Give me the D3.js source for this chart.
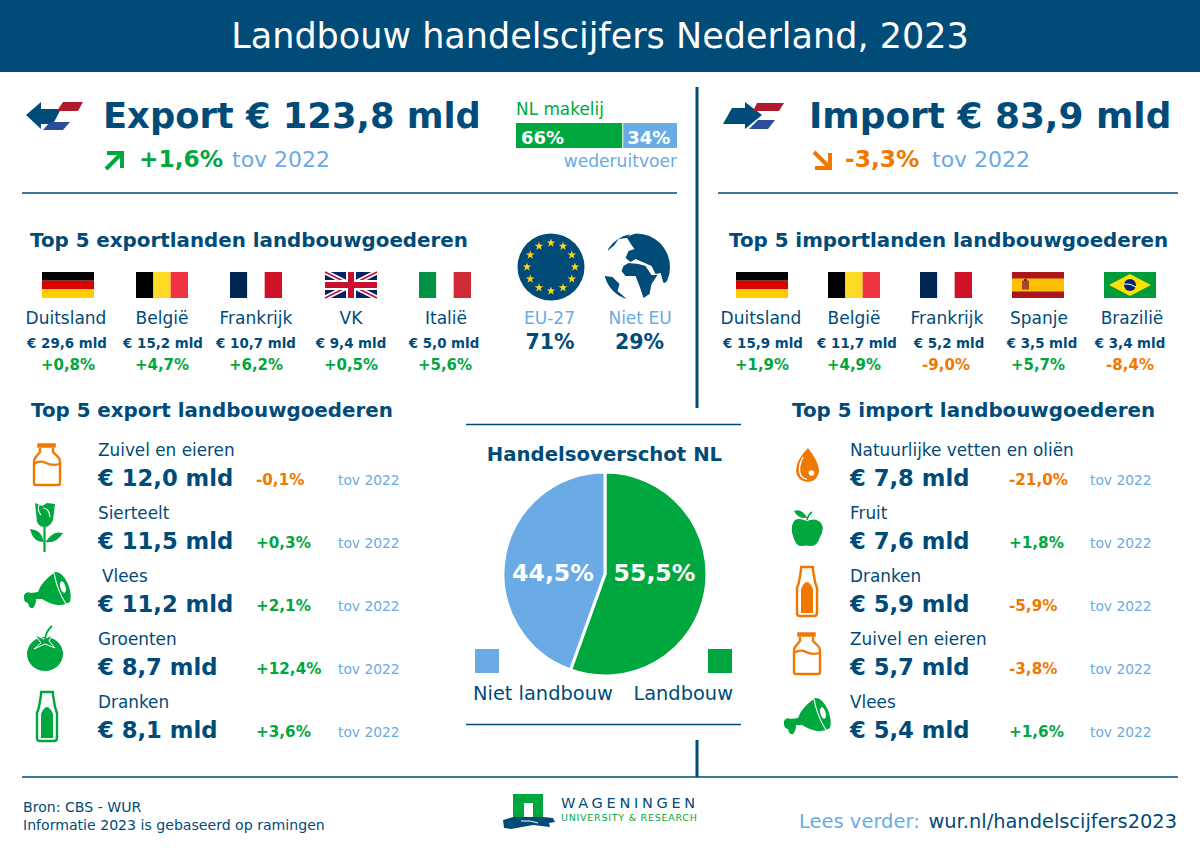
<!DOCTYPE html>
<html>
<head>
<meta charset="utf-8">
<script src="https://cdn.jsdelivr.net/npm/d3@7"></script>
<style>
html, body { margin: 0; padding: 0; background: #fff; }
svg { display: block; }
text { font-family: "DejaVu Sans", sans-serif; }
</style>
</head>
<body>
<div id="chart"></div>
<script>
const titel = "Landbouw handelscijfers Nederland, 2023";

const exportLanden = ["Duitsland", "België", "Frankrijk", "VK", "Italië"];
const exportLandenWaarde = [29.6, 15.2, 10.7, 9.4, 5.0];
const exportLandenGroei = [0.8, 4.7, 6.2, 0.5, 5.6];
const exportVlaggen = ["de", "be", "fr", "uk", "it"];

const importLanden = ["Duitsland", "België", "Frankrijk", "Spanje", "Brazilië"];
const importLandenWaarde = [15.9, 11.7, 5.2, 3.5, 3.4];
const importLandenGroei = [1.9, 4.9, -9.0, 5.7, -8.4];
const importVlaggen = ["de", "be", "fr", "es", "br"];

const exportGoederen = ["Zuivel en eieren", "Sierteelt", "Vlees", "Groenten", "Dranken"];
const exportGoederenWaarde = [12.0, 11.5, 11.2, 8.7, 8.1];
const exportGoederenGroei = [-0.1, 0.3, 2.1, 12.4, 3.6];
const exportIconen = ["melk", "roos", "vlees", "tomaat", "fles"];

const importGoederen = ["Natuurlijke vetten en oliën", "Fruit", "Dranken", "Zuivel en eieren", "Vlees"];
const importGoederenWaarde = [7.8, 7.6, 5.9, 5.7, 5.4];
const importGoederenGroei = [-21.0, 1.8, -5.9, -3.8, 1.6];
const importIconen = ["druppel", "appel", "fles", "melk", "vlees"];

const makelijLabels = ["66%", "34%"];
const makelijWaarden = [66, 34];
const euLabels = ["EU-27", "Niet EU"];
const euWaarden = [71, 29];
const overschotLabels = ["Landbouw", "Niet landbouw"];
const overschotWaarden = [55.5, 44.5];

const navy = "#004b78", green = "#00a73e", blue = "#6aabe5", orange = "#f07800", white = "#fff";

const svg = d3.select("#chart").append("svg").attr("width", 1200).attr("height", 848);

const nl = d3.format(".1f");
const komma = v => nl(v).replace(".", ",");
const teken = v => (v >= 0 ? "+" : "-") + komma(Math.abs(v)) + "%";
const kleur = v => v >= 0 ? green : orange;

function txt(x, y, s, size, fill, weight, anchor, parent) {
	return (parent || svg).append("text")
		.attr("x", x).attr("y", y)
		.attr("font-size", size)
		.attr("fill", fill)
		.attr("font-weight", weight || "normal")
		.attr("text-anchor", anchor || "start")
		.text(s);
}
function hline(x1, x2, y) {
	svg.append("line").attr("x1", x1).attr("x2", x2).attr("y1", y).attr("y2", y)
		.attr("stroke", navy).attr("stroke-width", 1.6);
}
function vline(x, y1, y2) {
	svg.append("line").attr("x1", x).attr("x2", x).attr("y1", y1).attr("y2", y2)
		.attr("stroke", navy).attr("stroke-width", 3);
}

// header
svg.append("rect").attr("width", 1200).attr("height", 72).attr("fill", navy);
txt(600, 48, titel, 35, white, "normal", "middle");

// lines
vline(697, 87, 408);
vline(697, 740, 777);
hline(22, 677, 193);
hline(718, 1178, 193);
hline(466, 741, 424.5);
hline(466, 741, 724.5);
hline(22, 1178, 777);

// dutch-flag arrows
function pijl(x, y, links) {
	const g = svg.append("g").attr("transform", `translate(${x},${y})`);
	if (links) {
		g.append("path").attr("d", "M0,13 L15,0 L15,7 L35,7 L27,22 L15,22 L15,27 Z").attr("fill", navy);
		g.append("path").attr("d", "M37,0 L57,0 L52,9 L31,9 Z").attr("fill", "#b01c2e");
		g.append("path").attr("d", "M24,20 L44,20 L37,28 L17,28 Z").attr("fill", "#2b4d9c");
	} else {
		g.append("path").attr("d", "M0,22 L9,6 L22,6 L22,0 L39,13 L22,27 L22,22 Z").attr("fill", navy);
		g.append("path").attr("d", "M34,1 L61,1 L56,9 L30,9 Z").attr("fill", "#b01c2e");
		g.append("path").attr("d", "M35,18 L52,18 L45,27 L26,27 Z").attr("fill", "#2b4d9c");
	}
}
pijl(26, 102, true);
pijl(723, 102, false);

// trend arrows
function trend(x, y, up, c) {
	const g = svg.append("g").attr("transform", `translate(${x},${y})`)
		.attr("fill", "none").attr("stroke", c).attr("stroke-width", 4);
	if (up) {
		g.append("path").attr("d", "M2,19 L17,4");
		g.append("path").attr("d", "M3,3 L18,3 L18,18");
	} else {
		g.append("path").attr("d", "M2,2 L17,17");
		g.append("path").attr("d", "M3,18 L18,18 L18,3");
	}
}

// export header
txt(103, 128, "Export € 123,8 mld", 35.3, navy, "bold");
trend(104, 150, true, green);
txt(139, 167, "+1,6%", 23.3, green, "bold");
txt(232, 167, "tov 2022", 22, blue);

// import header
txt(809, 128, "Import € 83,9 mld", 35.9, navy, "bold");
trend(812, 150, false, orange);
txt(845, 167, "-3,3%", 23.3, orange, "bold");
txt(932, 167, "tov 2022", 22, blue);

// NL makelij bar
txt(516, 115, "NL makelij", 16.9, green);
const makelijX = d3.scaleLinear().domain([0, d3.sum(makelijWaarden)]).range([516, 677]);
const makelijStart = d3.cumsum([0].concat(makelijWaarden));
svg.selectAll("rect.makelij").data(makelijWaarden).join("rect")
	.attr("class", "makelij")
	.attr("x", (d, i) => makelijX(makelijStart[i]) + (i ? 1 : 0))
	.attr("y", 123)
	.attr("width", (d, i) => makelijX(d) - makelijX(0) - (i ? 1 : 0))
	.attr("height", 25)
	.attr("fill", (d, i) => i ? blue : green);
svg.selectAll("text.makelij").data(makelijLabels).join("text")
	.attr("class", "makelij")
	.attr("x", (d, i) => makelijX(makelijStart[i]) + 5)
	.attr("y", 143.5)
	.attr("font-size", 18).attr("font-weight", "bold").attr("fill", white)
	.text(d => d);
txt(677, 167, "wederuitvoer", 17.1, blue, "normal", "end");

// flags
function vlag(x, y, code) {
	const w = 52, h = 26;
	const g = svg.append("g").attr("transform", `translate(${x},${y})`);
	const rect = (a, b, c, d, f) => g.append("rect").attr("x", a).attr("y", b).attr("width", c).attr("height", d).attr("fill", f);
	if (code == "de") {
		rect(0, 0, w, h / 3, "#000");
		rect(0, h / 3, w, h / 3, "#dd0000");
		rect(0, 2 * h / 3, w, h / 3, "#ffce00");
	} else if (code == "be") {
		rect(0, 0, w / 3, h, "#000");
		rect(w / 3, 0, w / 3, h, "#fdda24");
		rect(2 * w / 3, 0, w / 3, h, "#ef3340");
	} else if (code == "fr") {
		rect(0, 0, w / 3, h, "#002654");
		rect(w / 3, 0, w / 3, h, "#fff");
		rect(2 * w / 3, 0, w / 3, h, "#ce1126");
	} else if (code == "it") {
		rect(0, 0, w / 3, h, "#009246");
		rect(w / 3, 0, w / 3, h, "#fff");
		rect(2 * w / 3, 0, w / 3, h, "#ce2b37");
	} else if (code == "uk") {
		rect(0, 0, w, h, "#012169");
		g.append("path").attr("d", `M0,0 L${w},${h} M${w},0 L0,${h}`).attr("stroke", "#fff").attr("stroke-width", 5);
		g.append("path").attr("d", `M0,0 L${w},${h} M${w},0 L0,${h}`).attr("stroke", "#c8102e").attr("stroke-width", 1.6);
		rect(w / 2 - 5, 0, 10, h, "#fff");
		rect(0, h / 2 - 5, w, 10, "#fff");
		rect(w / 2 - 3, 0, 6, h, "#c8102e");
		rect(0, h / 2 - 3, w, 6, "#c8102e");
	} else if (code == "es") {
		rect(0, 0, w, h, "#aa151b");
		rect(0, h / 4, w, h / 2, "#fbbf00");
		rect(10, 8.5, 7, 9, "#a5452c");
		rect(12, 7, 3, 2, "#7a2a1a");
	} else if (code == "br") {
		rect(0, 0, w, h, "#009c3b");
		g.append("path").attr("d", `M${w / 2},2 L${w - 5},${h / 2} L${w / 2},${h - 2} L5,${h / 2} Z`).attr("fill", "#ffdf00");
		g.append("circle").attr("cx", w / 2).attr("cy", h / 2).attr("r", 6).attr("fill", "#002776");
		g.append("path").attr("d", `M${w / 2 - 6},${h / 2 - 1} Q${w / 2},${h / 2 - 2} ${w / 2 + 6},${h / 2 + 2}`).attr("stroke", "#fff").attr("fill", "none");
	}
}

// top 5 landen
function landen(namen, waarden, groei, vlaggen, vlagX, naamX, waardeX) {
	vlaggen.forEach((c, i) => vlag(vlagX[i], 272, c));
	namen.forEach((n, i) => txt(naamX[i], 324, n, 17, navy, "normal", "middle"));
	waarden.forEach((v, i) => txt(waardeX[i], 348, "€ " + komma(v) + " mld", 13.4, navy, "bold", "middle"));
	groei.forEach((v, i) => txt(vlagX[i] + 26, 370, teken(v), 15, kleur(v), "bold", "middle"));
}
txt(30, 247, "Top 5 exportlanden landbouwgoederen", 19.85, navy, "bold");
landen(exportLanden, exportLandenWaarde, exportLandenGroei, exportVlaggen,
	[42, 136, 230, 325, 419], [66, 162, 256, 351, 446], [67, 163, 256, 351, 444]);
txt(729, 247, "Top 5 importlanden landbouwgoederen", 19.85, navy, "bold");
landen(importLanden, importLandenWaarde, importLandenGroei, importVlaggen,
	[736, 828, 920, 1012, 1104], [761, 854, 947, 1039, 1132], [763, 857, 949, 1042, 1130]);

// EU / niet EU
const eu = svg.append("g").attr("transform", "translate(551,267)");
eu.append("circle").attr("r", 33.5).attr("fill", navy);
eu.selectAll("path").data(d3.range(12)).join("path")
	.attr("d", d3.symbol(d3.symbolStar, 24))
	.attr("fill", "#ffd21f")
	.attr("transform", d => {
		const a = d / 12 * 2 * Math.PI;
		return `translate(${24 * Math.sin(a)},${-24 * Math.cos(a)})`;
	});

const wereld = svg.append("g").attr("transform", "translate(636.5,267)");
wereld.append("clipPath").attr("id", "bol").append("circle").attr("r", 33.5);
const land = wereld.append("g").attr("clip-path", "url(#bol)").attr("fill", navy);
land.append("path").attr("d", "M-10,-30 L0,-34 L34,-34 L34,14 L27,16 L24,6 L19,7 L15,-1 L6,-5 L-1,-8 L-6,-5 L-11,-9 L-8,-16 L-2,-18 L-5,-22 Z");
land.append("path").attr("d", "M-13,-1 L-8,-4 L2,-3 L9,-1 L15,8 L21,8 L15,17 L13,27 L7,31 L3,19 L-1,9 L-11,9 L-15,4 Z");
land.append("path").attr("d", "M-32,9 L-24,10 L-17,17 L-19,24 L-11,31 L-8,34 L-14,32 Q-28,24 -32,9 Z");
land.append("path").attr("d", "M-27,-24 Q-16,-33 -6,-33 L-10,-29 L-18,-28 L-22,-22 L-29,-16 Z");

euLabels.forEach((l, i) => txt([549.5, 640][i], 324, l, 17, blue, "normal", "middle"));
euWaarden.forEach((v, i) => txt([550, 639.5][i], 349, v + "%", 20.5, navy, "bold", "middle"));

// icons, drawn in a local coordinate box
const iconen = {
	melk(g, c) {
		g.append("path").attr("d", "M5,1 H22 V4 H5 Z").attr("fill", c).attr("stroke", c).attr("stroke-width", 1.5);
		g.append("path").attr("d", "M7,5 V9 L2,15 Q1,17 1,20 V40 Q1,42 3,42 H25 Q27,42 27,40 V20 Q27,17 26,15 L20,9 V5").attr("fill", "none").attr("stroke", c).attr("stroke-width", 2.4).attr("stroke-linejoin", "round");
		g.append("path").attr("d", "M1,21 Q7,17 13,20 T27,21").attr("fill", "none").attr("stroke", c).attr("stroke-width", 2.2);
	},
	roos(g, c) {
		g.append("path").attr("d", "M5,0 L12,3 L17,0 L25,1 L23,17 Q20,24 15,24 Q9,24 7,19 Z").attr("fill", c);
		g.append("path").attr("d", "M13,5 Q19,5 20,14 M9,2 Q7,8 11,12").attr("fill", "none").attr("stroke", white).attr("stroke-width", 1.1);
		g.append("path").attr("d", "M14.5,24 V49").attr("stroke", c).attr("stroke-width", 2.2);
		g.append("path").attr("d", "M0,26 Q12,27 13.5,39 Q3,39 0,26 Z").attr("fill", c);
		g.append("path").attr("d", "M33,30 Q23,27 15.5,39 Q26,41 33,30 Z").attr("fill", c);
	},
	vlees(g, c) {
		g.append("path").attr("d", "M14,20 Q17,10 31,0 Q38,-1 44,12 Q48,22 46,30 Q40,34 33,33 Q26,32 18,27 L12,27 Q12,33 9,36 Q5,37 4,31 Q-1,30 0,23 Q2,19 7,21 Z").attr("fill", c);
		g.append("path").attr("d", "M30,1 Q33,18 42,32").attr("fill", "none").attr("stroke", white).attr("stroke-width", 1.2);
		g.append("ellipse").attr("cx", 39).attr("cy", 15).attr("rx", 2.6).attr("ry", 6).attr("transform", "rotate(-15 39 15)").attr("fill", white);
	},
	tomaat(g, c) {
		g.append("ellipse").attr("cx", 18).attr("cy", 28).attr("rx", 18).attr("ry", 17).attr("fill", c);
		g.append("path").attr("d", "M8,9 L17,13 L25,9 L22,15 L28,22 L18,18 L7,23 L14,17 Z").attr("fill", c).attr("stroke", white).attr("stroke-width", 1);
		g.append("path").attr("d", "M18,13 Q19,5 25,0").attr("fill", "none").attr("stroke", c).attr("stroke-width", 1.8);
	},
	fles(g, c) {
		g.append("path").attr("d", "M5,1 H17 V4 L19,16 L21,22 V47 Q21,50 18,50 H4 Q1,50 1,47 V22 L3,16 L5,4 Z").attr("fill", "none").attr("stroke", c).attr("stroke-width", 2.4).attr("stroke-linejoin", "round");
		g.append("path").attr("d", "M7,19 Q9,16 11,16 Q13,16 15,19 L17,23 V47 H5 V23 Z").attr("fill", c);
	},
	druppel(g, c) {
		g.append("path").attr("d", "M12,0 Q23,14 23,23 Q22,33 12,34 Q1,33 0,23 Q0,12 12,0 Z").attr("fill", c);
		g.append("path").attr("d", "M7,9 Q1,20 5,28 Q8,31 11,31").attr("fill", "none").attr("stroke", white).attr("stroke-width", 1.5);
		g.append("circle").attr("cx", 15.5).attr("cy", 25).attr("r", 2.8).attr("fill", white);
	},
	appel(g, c) {
		g.append("path").attr("d", "M15,12 Q5,8 2,12 Q-2,19 1,27 Q4,38 10,37 Q14,36 18,37 Q25,38 28,28 Q33,19 29,14 Q24,8 15,12 Z").attr("fill", c);
		g.append("path").attr("d", "M2,2 Q10,-1 15,9 Q6,10 2,2 Z").attr("fill", c);
		g.append("path").attr("d", "M15,11 Q16,6 20,3").attr("fill", "none").attr("stroke", c).attr("stroke-width", 1.6);
	}
};

// top 5 goederen
function goederen(namen, waarden, groei, icons, xs, iconX, iconY, inspring) {
	const labelY = d3.scaleLinear().domain([0, 4]).range([456, 708]);
	namen.forEach((n, i) => txt(xs.naam + (inspring[i] || 0), labelY(i), n, 16.85, navy));
	waarden.forEach((v, i) => txt(xs.naam, labelY(i) + 30, "€ " + komma(v) + " mld", 22.7, navy, "bold"));
	groei.forEach((v, i) => {
		txt(xs.groei, labelY(i) + 29, teken(v), 15.2, kleur(v), "bold");
		txt(xs.tov, labelY(i) + 29, "tov 2022", 13.8, blue);
	});
	icons.forEach((n, i) => {
		const c = (groei[i] >= 0) ? green : orange;
		iconen[n](svg.append("g").attr("transform", `translate(${iconX[i]},${iconY[i]})`), c);
	});
}
txt(31, 417, "Top 5 export landbouwgoederen", 19.85, navy, "bold");
goederen(exportGoederen, exportGoederenWaarde, exportGoederenGroei, exportIconen,
	{ naam: 98, groei: 256, tov: 338 },
	[33, 30, 24, 27, 36], [443, 503, 572, 626, 691], [0, 0, 4, 0, 0]);
txt(792, 417, "Top 5 import landbouwgoederen", 19.85, navy, "bold");
goederen(importGoederen, importGoederenWaarde, importGoederenGroei, importIconen,
	{ naam: 850, groei: 1009, tov: 1090 },
	[796, 792, 796, 793, 784], [448, 509, 566, 632, 698], [0, 0, 0, 0, 0]);

// pie
txt(604.5, 461, "Handelsoverschot NL", 19.7, navy, "bold", "middle");
const pie = d3.pie().sort(null)(overschotWaarden);
const arc = d3.arc().innerRadius(0).outerRadius(102);
const pieG = svg.append("g").attr("transform", "translate(605,574)");
pieG.selectAll("path").data(pie).join("path")
	.attr("d", arc)
	.attr("fill", (d, i) => i ? blue : green)
	.attr("stroke", white).attr("stroke-width", 3);
pieG.selectAll("text").data(pie).join("text")
	.attr("x", (d, i) => i ? -52 : 49.5)
	.attr("y", 7)
	.attr("text-anchor", "middle")
	.attr("font-size", 23.6).attr("font-weight", "bold").attr("fill", white)
	.text(d => komma(d.data) + "%");

// legend
svg.append("rect").attr("x", 475).attr("y", 649).attr("width", 24).attr("height", 24).attr("fill", blue);
svg.append("rect").attr("x", 708).attr("y", 649).attr("width", 24).attr("height", 24).attr("fill", green);
txt(473, 700, overschotLabels[1], 19.4, navy);
txt(733, 700, overschotLabels[0], 19.4, navy, "normal", "end");

// footer
txt(23, 812, "Bron: CBS - WUR", 14.1, navy);
txt(23, 830, "Informatie 2023 is gebaseerd op ramingen", 14.1, navy);
txt(799, 828, "Lees verder:", 19.5, blue);
txt(1177, 828, "wur.nl/handelscijfers2023", 19.4, navy, "normal", "end");

// logo
const logo = svg.append("g").attr("transform", "translate(503,794)");
logo.append("path").attr("d", "M10,0 H40 V23 H30 V9 H21 V23 H10 Z").attr("fill", green);
logo.append("path").attr("d", "M0,26 L10,23 H40 L50,24 L52,28 L46,29 L47,33 L30,31 L8,35 L1,34 Z").attr("fill", navy);
logo.append("path").attr("d", "M18,27 Q28,26 35,29").attr("fill", "none").attr("stroke", white).attr("stroke-width", 1);
txt(561, 808, "WAGENINGEN", 14.5, navy).attr("letter-spacing", 3.7);
txt(561, 821, "UNIVERSITY & RESEARCH", 9.5, green).attr("letter-spacing", 0.75);
</script>
</body>
</html>
